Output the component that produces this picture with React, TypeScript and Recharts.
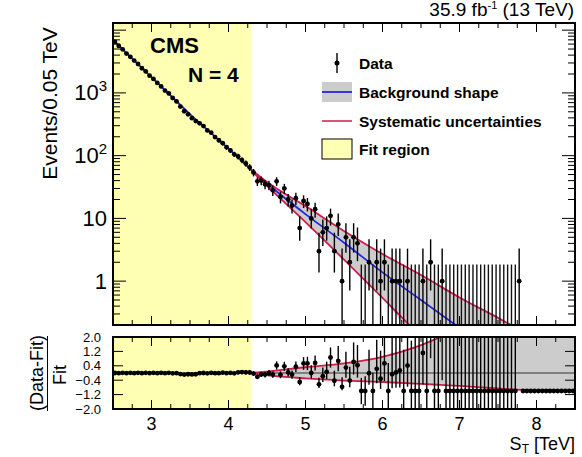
import React from "react";
import {
  Area,
  ComposedChart,
  ErrorBar,
  Line,
  ReferenceArea,
  ReferenceLine,
  Scatter,
  XAxis,
  YAxis,
} from "recharts";

type BarPoint = { x: number; y: number; err: [number, number]; xErr: number };

const X_MIN = 2.5;
const X_MAX = 8.5;
const BIN_WIDTH = 0.05;
const FIT_END = 4.3;
const Y_MIN = 0.2;
const Y_MAX = 13000;
const RATIO_MIN = -2;
const RATIO_MAX = 2;

// events per 0.05 TeV bin, 2.5 -> 8.5 TeV
const counts = [
  6480, 5610, 4950, 4240, 3760, 3270, 2890, 2470, 2200, 1880,
  1670, 1440, 1270, 1090, 980, 830, 730, 605, 510, 455,
  395, 355, 328, 296, 252, 232, 198, 176, 158, 136,
  121, 105, 97, 85, 75, 65, 54, 39, 40, 35,
  34, 28, 39, 22, 30, 20, 16, 21, 7, 19,
  17, 10, 14, 3, 6, 7, 11, 3, 8, 1,
  5, 2, 5, 4, 0, 0, 2, 0, 2, 1,
  2, 0, 1, 1, 1, 0, 1, 0, 0, 0,
  1, 0, 2, 0, 0, 1, 0, 0, 0, 0,
  0, 0, 0, 0, 0, 0, 0, 0, 0, 0,
  0, 0, 0, 0, 0, 1, 0, 0, 0, 0,
  0, 0, 0, 0, 0, 0, 0, 0, 0, 0,
];

// (Data-Fit)/Fit per bin
const ratio = [
  0.0, -0.01, 0.01, -0.01, 0.01, -0.01, 0.01, -0.01, 0.01, -0.01,
  0.01, -0.01, 0.01, -0.01, 0.01, -0.02, -0.01, -0.06, -0.09, -0.07,
  -0.08, -0.07, -0.01, 0.0, -0.02, 0.01, -0.01, -0.01, 0.02, -0.01,
  0.01, -0.02, 0.04, 0.05, 0.04, 0.03, -0.03, -0.21, -0.08, -0.09,
  -0.01, -0.09, 0.42, -0.1, 0.37, 0.03, -0.09, 0.35, -0.5, 0.53,
  0.53, 0.0, 0.56, -0.63, -0.18, 0.06, 0.86, -0.43, 0.67, -0.77,
  0.3, -0.42, 0.61, 0.43, -1, -1, -0.01, -1, 0.23, -0.32,
  0.53, -1, -0.07, 0.03, 0.14, -1, 0.41, -1, -1, -1,
  1.11, -1, 4.13, -1, -1, 2.53, -1, -1, -1, -1,
  -1, -1, -1, -1, -1, -1, -1, -1, -1, -1,
  -1, -1, -1, -1, -1, 27.6, -1, -1, -1, -1,
  -1, -1, -1, -1, -1, -1, -1, -1, -1, -1,
];

// half-width of the ratio error for empty bins (others cover the whole pad)
const zeroBinRatioErr: Record<number, number> = { 64: 0.73, 65: 0.82, 67: 1.02, 71: 1.55, 75: 2.3, 77: 2.8 };

// background shape
const fitX = [2.5, 3.0, 3.5, 4.0, 4.3, 4.5, 5.0, 5.5, 6.0, 6.5, 7.0];
const fitBackground = [6950, 1780, 460, 129, 59, 36, 11.7, 4.1, 1.38, 0.5, 0.18];

// systematic envelope
const systX = [4.3, 4.5, 5.0, 5.5, 6.0, 6.5, 7.0, 7.5, 8.0];
const systUpper = [59, 38, 15.7, 6.3, 2.7, 1.25, 0.55, 0.26, 0.12];
const systLower = [57, 33, 8.7, 2.2, 0.54, 0.13];

// envelope in the ratio pad
const ratioBandX = [4.3, 4.5, 5.0, 5.5, 6.0, 6.5, 6.75, 7.0, 7.5, 7.8, 8.0, 8.5];
const ratioUpper = [0, 0.08, 0.32, 0.53, 0.9, 1.55, 2.0, 2.6, 3.6, 4.4, 5.0, 7.0];
const ratioLower = [0, -0.12, -0.3, -0.42, -0.5, -0.6, -0.66, -0.72, -0.86, -0.94, -1.0, -1.0];

const xTicks = [
  2.75, 3, 3.25, 3.5, 3.75, 4, 4.25, 4.5, 4.75, 5, 5.25, 5.5,
  5.75, 6, 6.25, 6.5, 6.75, 7, 7.25, 7.5, 7.75, 8, 8.25,
];
const yTicksTop = [
  0.2, 0.3, 0.4, 0.5, 0.6, 0.7, 0.8, 0.9,
  1, 2, 3, 4, 5, 6, 7, 8, 9,
  10, 20, 30, 40, 50, 60, 70, 80, 90,
  100, 200, 300, 400, 500, 600, 700, 800, 900,
  1000, 2000, 3000, 4000, 5000, 6000, 7000, 8000, 9000, 10000,
];
const yMajorTop = [1, 10, 100, 1000, 10000];
const yLabelsTop: Record<number, [string, string?]> = {
  1: ["1"],
  10: ["10"],
  100: ["10", "2"],
  1000: ["10", "3"],
};
const yTicksRatio = [-2, -1.2, -0.4, 0.4, 1.2, 2];

// 68% Poisson interval (down, up) for small counts
const POISSON_LOW = [0, 0.83, 1.29, 1.63, 1.92, 2.16, 2.38, 2.58, 2.77, 2.94, 3.11];
const POISSON_HIGH = [1.84, 2.3, 2.64, 2.92, 3.16, 3.38, 3.58, 3.77, 3.96, 4.13, 4.3];

const FONT = '"Liberation Sans", Arial, Helvetica, sans-serif';
const YELLOW = "#ffffb3";
const GRAY = "#cccccc";
const BLUE = "#2626e0";
const RED = "#d01c48";

const PLOT_LEFT = 113;
const PLOT_RIGHT = 575;
const TOP_HEIGHT = 335;
const TOP_PLOT = { top: 23, bottom: 325 };
const RATIO_OFFSET = 330;
const RATIO_HEIGHT = 127;
const RATIO_PLOT = { top: 7, bottom: 79 };

function poissonErr(n: number): [number, number] {
  if (n < POISSON_LOW.length) return [POISSON_LOW[n], POISSON_HIGH[n]];
  const s = Math.sqrt(n);
  return [s, s];
}

// split a point into a drawn marker or a bare error bar, trimmed to the pad range
function pushBar(
  x: number, v: number, lo: number, hi: number, min: number, max: number,
  shown: BarPoint[], bare: BarPoint[],
) {
  const bottom = Math.max(v - lo, min);
  const top = Math.min(v + hi, max);
  if (v >= min && v <= max) {
    shown.push({ x, y: v, err: [v - bottom, top - v], xErr: BIN_WIDTH / 2 });
  } else if (top > bottom) {
    const y = v < min ? bottom : top;
    bare.push({ x, y, err: [y - bottom, top - y], xErr: 0 });
  }
}

const binCenters = counts.map((_, i) => +(X_MIN + BIN_WIDTH * (i + 0.5)).toFixed(3));
const lastFilled = counts.reduce((last, n, i) => (n > 0 ? i : last), -1);

const dataPoints: BarPoint[] = [];
const emptyBins: BarPoint[] = [];
counts.forEach((n, i) => {
  if (n === 0 && i > lastFilled) return;
  const [lo, hi] = poissonErr(n);
  pushBar(binCenters[i], n, lo, hi, Y_MIN, Y_MAX, dataPoints, emptyBins);
});

const ratioPoints: BarPoint[] = [];
const ratioBare: BarPoint[] = [];
counts.forEach((n, i) => {
  const r = ratio[i];
  let lo = 0;
  let hi = 0;
  if (n > 0) {
    const [pl, ph] = poissonErr(n);
    lo = (pl * (1 + r)) / n;
    hi = (ph * (1 + r)) / n;
  } else if (i < lastFilled) {
    lo = hi = zeroBinRatioErr[i] ?? 4;
  }
  pushBar(binCenters[i], r, lo, hi, RATIO_MIN, RATIO_MAX, ratioPoints, ratioBare);
});

const fitLine = fitX.map((x, i) => ({ x, y: fitBackground[i] }));
const systUpperLine = systX.map((x, i) => ({ x, y: systUpper[i] }));
const systLowerLine = systLower.map((y, i) => ({ x: systX[i], y }));
const systBand = systX.map((x, i) => ({ x, band: [systLower[i] ?? Y_MIN, systUpper[i]] }));

const ratioBand = ratioBandX.map((x, i) => ({ x, band: [ratioLower[i], ratioUpper[i]] }));
const ratioUpperLine = ratioBandX.map((x, i) => ({ x, y: ratioUpper[i] }));
const ratioLowerLine = ratioBandX.map((x, i) => ({ x, y: ratioLower[i] }));

const dotShape = (p: any) => <circle cx={p.cx} cy={p.cy} r={2.4} fill="#000" />;
const noShape = () => <g />;

function XTick({ x, payload, top, bottom, labels }: any) {
  const v = payload.value as number;
  const major = Number.isInteger(v);
  const len = major ? 9 : 5;
  return (
    <g>
      <line x1={x} x2={x} y1={bottom} y2={bottom - len} stroke="#000" strokeWidth={1} />
      <line x1={x} x2={x} y1={top} y2={top + len} stroke="#000" strokeWidth={1} />
      {labels && major && (
        <text x={x} y={bottom + 21} textAnchor="middle" fontSize={18} fill="#000">
          {v}
        </text>
      )}
    </g>
  );
}

function TopYTick({ y, payload }: any) {
  const v = payload.value as number;
  const major = yMajorTop.includes(v);
  const len = major ? 13 : 7;
  const label = yLabelsTop[v];
  return (
    <g>
      <line x1={PLOT_LEFT} x2={PLOT_LEFT + len} y1={y} y2={y} stroke="#000" strokeWidth={1} />
      <line x1={PLOT_RIGHT - len} x2={PLOT_RIGHT} y1={y} y2={y} stroke="#000" strokeWidth={1} />
      {label && (
        <text x={107} y={y + 7.5} textAnchor="end" fontSize={22} fill="#000">
          {label[0]}
          {label[1] && (
            <tspan dy={-9} fontSize={15}>
              {label[1]}
            </tspan>
          )}
        </text>
      )}
    </g>
  );
}

function RatioYTick({ y, payload }: any) {
  const v = payload.value as number;
  const text = (v < 0 ? "\u2212" : "") + Math.abs(v).toFixed(1);
  return (
    <g>
      <line x1={PLOT_LEFT} x2={PLOT_LEFT + 10} y1={y} y2={y} stroke="#000" strokeWidth={1} />
      <line x1={PLOT_RIGHT - 10} x2={PLOT_RIGHT} y1={y} y2={y} stroke="#000" strokeWidth={1} />
      <text x={101} y={y + 4.5} textAnchor="end" fontSize={13} fill="#000">
        {text}
      </text>
    </g>
  );
}

export default function App() {
  return (
    <div
      style={{
        position: "absolute",
        left: 0,
        top: 0,
        width: 582,
        height: 457,
        background: "#fff",
        fontFamily: FONT,
      }}
    >
      <div style={{ position: "absolute", left: 0, top: 0 }}>
        <ComposedChart
          width={582}
          height={TOP_HEIGHT}
          margin={{ top: TOP_PLOT.top, right: 582 - PLOT_RIGHT, bottom: TOP_HEIGHT - TOP_PLOT.bottom - 1, left: PLOT_LEFT - 1 }}
        >
          <ReferenceArea x1={X_MIN} x2={FIT_END} fill={YELLOW} fillOpacity={1} stroke="none" zIndex={-10} />
          <XAxis
            type="number"
            dataKey="x"
            domain={[X_MIN, X_MAX]}
            allowDataOverflow
            ticks={xTicks}
            interval={0}
            height={1}
            axisLine={false}
            tickLine={false}
            tick={(p: any) => <XTick {...p} top={TOP_PLOT.top} bottom={TOP_PLOT.bottom} labels={false} />}
          />
          <YAxis
            scale="log"
            domain={[Y_MIN, Y_MAX]}
            allowDataOverflow
            ticks={yTicksTop}
            interval={0}
            width={1}
            axisLine={false}
            tickLine={false}
            tick={(p: any) => <TopYTick {...p} />}
          />
          <Area data={systBand} dataKey="band" type="monotone" fill={GRAY} fillOpacity={1} stroke="none" isAnimationActive={false} />
          <Line data={fitLine} dataKey="y" type="monotone" stroke={BLUE} strokeWidth={1.8} dot={false} isAnimationActive={false} />
          <Line data={systUpperLine} dataKey="y" type="monotone" stroke={RED} strokeWidth={1.8} dot={false} isAnimationActive={false} />
          <Line data={systLowerLine} dataKey="y" type="monotone" stroke={RED} strokeWidth={1.8} dot={false} isAnimationActive={false} />
          <Scatter data={emptyBins} dataKey="y" shape={noShape} isAnimationActive={false}>
            <ErrorBar dataKey="err" direction="y" width={0} stroke="#111" strokeWidth={1.4} />
          </Scatter>
          <Scatter data={dataPoints} dataKey="y" shape={dotShape} isAnimationActive={false}>
            <ErrorBar dataKey="err" direction="y" width={0} stroke="#000" strokeWidth={1.4} />
            <ErrorBar dataKey="xErr" direction="x" width={0} stroke="#000" strokeWidth={1.4} />
          </Scatter>
          <ReferenceArea x1={X_MIN} x2={X_MAX} fill="none" stroke="#000" strokeWidth={2} zIndex={2000} />
        </ComposedChart>
      </div>

      <div style={{ position: "absolute", left: 0, top: RATIO_OFFSET }}>
        <ComposedChart
          width={582}
          height={RATIO_HEIGHT}
          margin={{ top: RATIO_PLOT.top, right: 582 - PLOT_RIGHT, bottom: RATIO_HEIGHT - RATIO_PLOT.bottom - 1, left: PLOT_LEFT - 1 }}
        >
          <ReferenceArea x1={X_MIN} x2={FIT_END} fill={YELLOW} fillOpacity={1} stroke="none" zIndex={-10} />
          <XAxis
            type="number"
            dataKey="x"
            domain={[X_MIN, X_MAX]}
            allowDataOverflow
            ticks={xTicks}
            interval={0}
            height={1}
            axisLine={false}
            tickLine={false}
            tick={(p: any) => <XTick {...p} top={RATIO_PLOT.top} bottom={RATIO_PLOT.bottom} labels />}
          />
          <YAxis
            domain={[RATIO_MIN, RATIO_MAX]}
            allowDataOverflow
            ticks={yTicksRatio}
            interval={0}
            width={1}
            axisLine={false}
            tickLine={false}
            tick={(p: any) => <RatioYTick {...p} />}
          />
          <Area data={ratioBand} dataKey="band" type="monotone" fill={GRAY} fillOpacity={1} stroke="none" isAnimationActive={false} />
          <ReferenceLine y={0} stroke="#333" strokeWidth={1} />
          <Line data={ratioUpperLine} dataKey="y" type="monotone" stroke={RED} strokeWidth={1.8} dot={false} isAnimationActive={false} />
          <Line data={ratioLowerLine} dataKey="y" type="monotone" stroke={RED} strokeWidth={1.8} dot={false} isAnimationActive={false} />
          <Scatter data={ratioBare} dataKey="y" shape={noShape} isAnimationActive={false}>
            <ErrorBar dataKey="err" direction="y" width={0} stroke="#111" strokeWidth={1.4} />
          </Scatter>
          <Scatter data={ratioPoints} dataKey="y" shape={dotShape} isAnimationActive={false}>
            <ErrorBar dataKey="err" direction="y" width={0} stroke="#000" strokeWidth={1.4} />
            <ErrorBar dataKey="xErr" direction="x" width={0} stroke="#000" strokeWidth={1.4} />
          </Scatter>
          <ReferenceArea x1={X_MIN} x2={X_MAX} fill="none" stroke="#000" strokeWidth={2} zIndex={2000} />
        </ComposedChart>
      </div>

      <svg width={582} height={457} style={{ position: "absolute", left: 0, top: 0, pointerEvents: "none" }}>
        <text x={574} y={16} textAnchor="end" fontSize={19} fill="#000">
          35.9 fb
          <tspan dy={-7} fontSize={11}>-1</tspan>
          <tspan dy={7}> (13 TeV)</tspan>
        </text>
        <text x={150} y={53} fontSize={22} fontWeight="bold" fill="#000">CMS</text>
        <text x={188} y={82} fontSize={21} fontWeight="bold" fill="#000">N = 4</text>

        <g fontSize={15.5} fontWeight="bold" fill="#000">
          <line x1={337} x2={337} y1={53} y2={73} stroke="#000" strokeWidth={1.4} />
          <circle cx={337} cy={63} r={2.5} fill="#000" />
          <text x={359} y={68.5}>Data</text>

          <rect x={322} y={82} width={30} height={20} fill={GRAY} />
          <line x1={322} x2={352} y1={92} y2={92} stroke={BLUE} strokeWidth={1.8} />
          <text x={359} y={97.5}>Background shape</text>

          <line x1={322} x2={352} y1={121} y2={121} stroke={RED} strokeWidth={1.5} />
          <text x={359} y={126.5}>Systematic uncertainties</text>

          <rect x={322} y={139} width={30} height={20} fill={YELLOW} stroke="#000" strokeWidth={1} />
          <text x={359} y={154.5}>Fit region</text>
        </g>

        <text x={57} y={103.5} textAnchor="middle" fontSize={21} fill="#000" transform="rotate(-90 57 103.5)">
          Events/0.05 TeV
        </text>

        <text x={43} y={373} textAnchor="middle" fontSize={18} fill="#000" transform="rotate(-90 43 373)">
          (Data-Fit)
        </text>
        <line x1={47.5} x2={47.5} y1={336} y2={411} stroke="#000" strokeWidth={1} />
        <text x={66} y={375} textAnchor="middle" fontSize={18} fill="#000" transform="rotate(-90 66 375)">
          Fit
        </text>

        <text x={575} y={450} textAnchor="end" fontSize={18} fill="#000">
          S
          <tspan dy={3} fontSize={12}>T</tspan>
          <tspan dy={-3}> [TeV]</tspan>
        </text>
      </svg>
    </div>
  );
}
